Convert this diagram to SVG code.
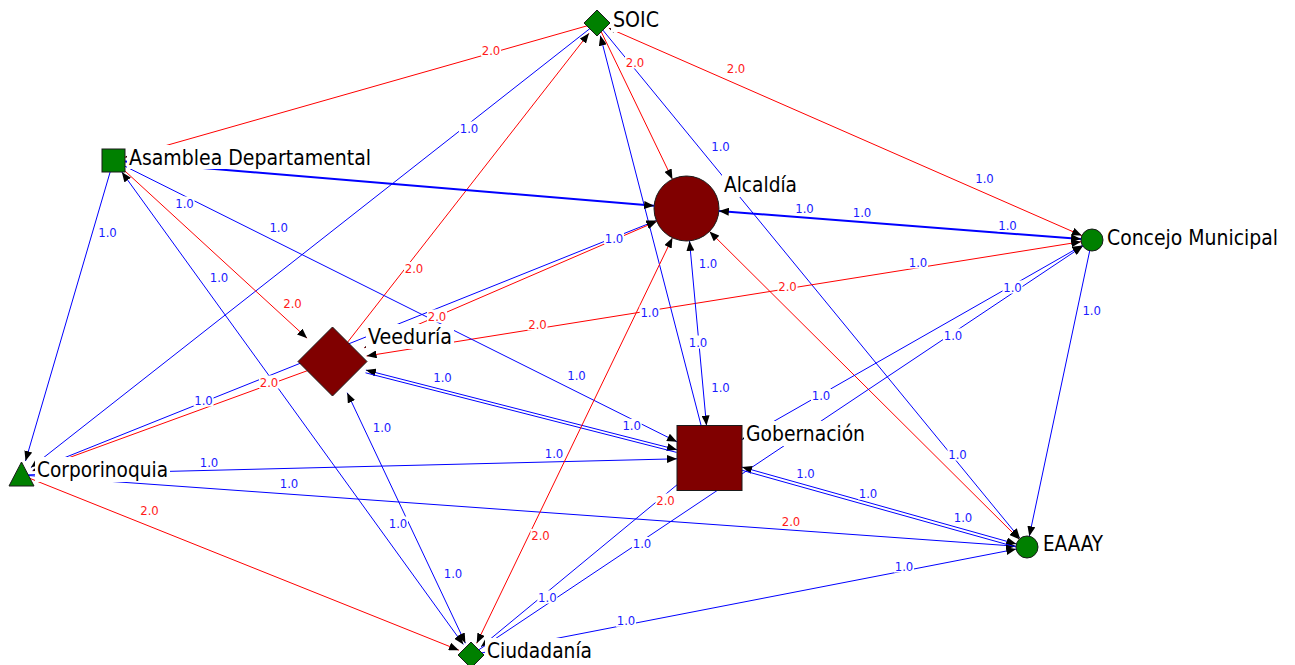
<svg xmlns="http://www.w3.org/2000/svg" width="1295" height="665" viewBox="0 0 1295 665">
<style>
.b{stroke:#0000ff;stroke-width:1;fill:none}
.r{stroke:#ff0000;stroke-width:1;fill:none}
.w2{stroke-width:2}
.ea{marker-end:url(#arr)}
.sa{marker-start:url(#arr)}
.ss{marker-start:url(#arrs)}
.lab rect,.nb{fill:#ffffff}
.lab text{font-family:"DejaVu Sans Condensed","DejaVu Sans",sans-serif;font-size:13px;text-anchor:middle}
.lb text{fill:#1a1aff}
.lr text{fill:#ff1a1a}
.nt{font-family:"DejaVu Sans Condensed","DejaVu Sans",sans-serif;font-size:21px;fill:#000000}
.gr{fill:#008000;stroke:#1a1a1a;stroke-width:1}
.dr{fill:#800000;stroke:#1a1a1a;stroke-width:1}
</style>
<defs>
<marker id="arr" viewBox="0 0 10 8" refX="10" refY="4" markerWidth="10" markerHeight="8" markerUnits="userSpaceOnUse" orient="auto-start-reverse"><path d="M0,0 L10,4 L0,8 z" fill="#000000"/></marker>
<marker id="arrs" viewBox="0 0 10 8" refX="10" refY="4" markerWidth="6" markerHeight="5" markerUnits="userSpaceOnUse" orient="auto-start-reverse"><path d="M0,0 L10,4 L0,8 z" fill="#000000"/></marker>
</defs>
<rect width="1295" height="665" fill="#ffffff"/>
<g id="connectors">
<line class="r ea" x1="597" y1="23" x2="125" y2="157.2"/>
<line class="b ea" x1="597" y1="23" x2="30.9" y2="467.6"/>
<line class="r ea" x1="332.5" y1="361.5" x2="589" y2="33.2"/>
<line class="r ea" x1="597" y1="23" x2="672.4" y2="179.2"/>
<line class="b ea" x1="709.5" y1="458" x2="600.3" y2="35.6"/>
<line class="b ea" x1="597" y1="23" x2="1020" y2="538.5"/>
<line class="r ss ea" x1="608.9" y1="28.2" x2="1081.9" y2="235.6"/>
<line class="b w2 ea" x1="113.5" y1="160.5" x2="654.1" y2="205.8"/>
<line class="b w2 sa ea" x1="718.9" y1="211" x2="1081" y2="239.1"/>
<line class="r sa ea" x1="366.6" y1="356" x2="1081.1" y2="241.7"/>
<line class="b sa ea" x1="32.6" y1="470.5" x2="656.3" y2="220.6"/>
<line class="r ea" x1="332.5" y1="361.5" x2="32.8" y2="470.9"/>
<line class="r sa ea" x1="364.2" y1="347.8" x2="656.7" y2="221.4"/>
<line class="r ea" x1="113.5" y1="160.5" x2="307.1" y2="338.2"/>
<line class="b sa ea" x1="121.8" y1="172" x2="463.4" y2="644.5"/>
<line class="b sa ea" x1="347.2" y1="392.7" x2="465.4" y2="643.2"/>
<line class="b ea" x1="113.5" y1="160.5" x2="677" y2="441.8"/>
<line class="b sa ea" x1="365.9" y1="370.1" x2="677" y2="449.7"/>
<line class="b" x1="365.5" y1="372.8" x2="676.6" y2="452.4"/>
<line class="b ea" x1="21.5" y1="475" x2="677" y2="458.8"/>
<line class="b ea" x1="21.5" y1="475" x2="1016" y2="546.2"/>
<line class="r ea" x1="21.5" y1="475" x2="458.9" y2="650.2"/>
<line class="b ea" x1="113.5" y1="160.5" x2="25.5" y2="461"/>
<line class="r sa ea" x1="476.7" y1="643.3" x2="672.4" y2="237.8"/>
<line class="r sa ea" x1="709.5" y1="231.4" x2="1019.2" y2="539.2"/>
<line class="b ea" x1="1092" y1="240" x2="1029.3" y2="536.2"/>
<line class="b sa ea" x1="742" y1="439.5" x2="1082.4" y2="245.4"/>
<line class="b ea" x1="471" y1="655" x2="1082.9" y2="246.1"/>
<line class="b ea" x1="709.5" y1="458" x2="481" y2="646.7"/>
<line class="b ea" x1="471" y1="655" x2="1016.2" y2="549.1"/>
<line class="b sa ea" x1="742" y1="467.1" x2="1016.4" y2="544"/>
<line class="b" x1="741.2" y1="470" x2="1015.6" y2="546.9"/>
<line class="b sa ea" x1="689.5" y1="240.9" x2="706.5" y2="425.5"/>
</g>
<g id="connector-labels">
<g class="lab lr" transform="translate(491,50)"><rect x="-10" y="-6.5" width="20" height="13"/><text y="4.7">2.0</text></g>
<g class="lab lr" transform="translate(635,62)"><rect x="-10" y="-6.5" width="20" height="13"/><text y="4.7">2.0</text></g>
<g class="lab lr" transform="translate(736,68.5)"><rect x="-10" y="-6.5" width="20" height="13"/><text y="4.7">2.0</text></g>
<g class="lab lb" transform="translate(469,128)"><rect x="-10" y="-6.5" width="20" height="13"/><text y="4.7">1.0</text></g>
<g class="lab lb" transform="translate(720.5,146.7)"><rect x="-10" y="-6.5" width="20" height="13"/><text y="4.7">1.0</text></g>
<g class="lab lb" transform="translate(984.5,178)"><rect x="-10" y="-6.5" width="20" height="13"/><text y="4.7">1.0</text></g>
<g class="lab lb" transform="translate(184.5,203)"><rect x="-10" y="-6.5" width="20" height="13"/><text y="4.7">1.0</text></g>
<g class="lab lb" transform="translate(278.7,227)"><rect x="-10" y="-6.5" width="20" height="13"/><text y="4.7">1.0</text></g>
<g class="lab lb" transform="translate(107.5,232)"><rect x="-10" y="-6.5" width="20" height="13"/><text y="4.7">1.0</text></g>
<g class="lab lb" transform="translate(804.5,208)"><rect x="-10" y="-6.5" width="20" height="13"/><text y="4.7">1.0</text></g>
<g class="lab lb" transform="translate(862,212)"><rect x="-10" y="-6.5" width="20" height="13"/><text y="4.7">1.0</text></g>
<g class="lab lb" transform="translate(1007.5,225)"><rect x="-10" y="-6.5" width="20" height="13"/><text y="4.7">1.0</text></g>
<g class="lab lb" transform="translate(614,238)"><rect x="-10" y="-6.5" width="20" height="13"/><text y="4.7">1.0</text></g>
<g class="lab lb" transform="translate(708,263)"><rect x="-10" y="-6.5" width="20" height="13"/><text y="4.7">1.0</text></g>
<g class="lab lb" transform="translate(918,262)"><rect x="-10" y="-6.5" width="20" height="13"/><text y="4.7">1.0</text></g>
<g class="lab lb" transform="translate(219,277)"><rect x="-10" y="-6.5" width="20" height="13"/><text y="4.7">1.0</text></g>
<g class="lab lr" transform="translate(787.5,286)"><rect x="-10" y="-6.5" width="20" height="13"/><text y="4.7">2.0</text></g>
<g class="lab lb" transform="translate(1012.5,287)"><rect x="-10" y="-6.5" width="20" height="13"/><text y="4.7">1.0</text></g>
<g class="lab lr" transform="translate(414,268.5)"><rect x="-10" y="-6.5" width="20" height="13"/><text y="4.7">2.0</text></g>
<g class="lab lr" transform="translate(292.5,303)"><rect x="-10" y="-6.5" width="20" height="13"/><text y="4.7">2.0</text></g>
<g class="lab lr" transform="translate(437,316)"><rect x="-10" y="-6.5" width="20" height="13"/><text y="4.7">2.0</text></g>
<g class="lab lb" transform="translate(649.7,312)"><rect x="-10" y="-6.5" width="20" height="13"/><text y="4.7">1.0</text></g>
<g class="lab lb" transform="translate(1091.7,310)"><rect x="-10" y="-6.5" width="20" height="13"/><text y="4.7">1.0</text></g>
<g class="lab lr" transform="translate(537.5,324)"><rect x="-10" y="-6.5" width="20" height="13"/><text y="4.7">2.0</text></g>
<g class="lab lb" transform="translate(953,335)"><rect x="-10" y="-6.5" width="20" height="13"/><text y="4.7">1.0</text></g>
<g class="lab lb" transform="translate(698,342)"><rect x="-10" y="-6.5" width="20" height="13"/><text y="4.7">1.0</text></g>
<g class="lab lb" transform="translate(442.5,377)"><rect x="-10" y="-6.5" width="20" height="13"/><text y="4.7">1.0</text></g>
<g class="lab lb" transform="translate(576.5,375.7)"><rect x="-10" y="-6.5" width="20" height="13"/><text y="4.7">1.0</text></g>
<g class="lab lr" transform="translate(269,382)"><rect x="-10" y="-6.5" width="20" height="13"/><text y="4.7">2.0</text></g>
<g class="lab lb" transform="translate(203.5,400)"><rect x="-10" y="-6.5" width="20" height="13"/><text y="4.7">1.0</text></g>
<g class="lab lb" transform="translate(720.5,387.7)"><rect x="-10" y="-6.5" width="20" height="13"/><text y="4.7">1.0</text></g>
<g class="lab lb" transform="translate(821,395)"><rect x="-10" y="-6.5" width="20" height="13"/><text y="4.7">1.0</text></g>
<g class="lab lb" transform="translate(382,427)"><rect x="-10" y="-6.5" width="20" height="13"/><text y="4.7">1.0</text></g>
<g class="lab lb" transform="translate(631.7,425.3)"><rect x="-10" y="-6.5" width="20" height="13"/><text y="4.7">1.0</text></g>
<g class="lab lb" transform="translate(957.5,454)"><rect x="-10" y="-6.5" width="20" height="13"/><text y="4.7">1.0</text></g>
<g class="lab lb" transform="translate(209,462)"><rect x="-10" y="-6.5" width="20" height="13"/><text y="4.7">1.0</text></g>
<g class="lab lb" transform="translate(554,453.5)"><rect x="-10" y="-6.5" width="20" height="13"/><text y="4.7">1.0</text></g>
<g class="lab lb" transform="translate(805.5,473)"><rect x="-10" y="-6.5" width="20" height="13"/><text y="4.7">1.0</text></g>
<g class="lab lb" transform="translate(289,483.5)"><rect x="-10" y="-6.5" width="20" height="13"/><text y="4.7">1.0</text></g>
<g class="lab lb" transform="translate(868,493)"><rect x="-10" y="-6.5" width="20" height="13"/><text y="4.7">1.0</text></g>
<g class="lab lr" transform="translate(665.5,500)"><rect x="-10" y="-6.5" width="20" height="13"/><text y="4.7">2.0</text></g>
<g class="lab lb" transform="translate(963,517)"><rect x="-10" y="-6.5" width="20" height="13"/><text y="4.7">1.0</text></g>
<g class="lab lr" transform="translate(149.5,510.5)"><rect x="-10" y="-6.5" width="20" height="13"/><text y="4.7">2.0</text></g>
<g class="lab lr" transform="translate(791,521.5)"><rect x="-10" y="-6.5" width="20" height="13"/><text y="4.7">2.0</text></g>
<g class="lab lb" transform="translate(398,523)"><rect x="-10" y="-6.5" width="20" height="13"/><text y="4.7">1.0</text></g>
<g class="lab lr" transform="translate(540.5,535.5)"><rect x="-10" y="-6.5" width="20" height="13"/><text y="4.7">2.0</text></g>
<g class="lab lb" transform="translate(642,543.5)"><rect x="-10" y="-6.5" width="20" height="13"/><text y="4.7">1.0</text></g>
<g class="lab lb" transform="translate(453,573.5)"><rect x="-10" y="-6.5" width="20" height="13"/><text y="4.7">1.0</text></g>
<g class="lab lb" transform="translate(904,566)"><rect x="-10" y="-6.5" width="20" height="13"/><text y="4.7">1.0</text></g>
<g class="lab lb" transform="translate(547.3,597)"><rect x="-10" y="-6.5" width="20" height="13"/><text y="4.7">1.0</text></g>
<g class="lab lb" transform="translate(626,620.3)"><rect x="-10" y="-6.5" width="20" height="13"/><text y="4.7">1.0</text></g>
</g>
<g id="node-soic">
<polygon class="gr" points="597,10 610,23 597,36 584,23"/>
<rect class="nb" x="611" y="7" width="50" height="25"/>
<text class="nt" x="613" y="27" textLength="46" lengthAdjust="spacingAndGlyphs">SOIC</text>
</g>
<g id="node-asamblea">
<rect class="gr" x="102" y="149" width="23" height="23"/>
<rect class="nb" x="127" y="145" width="246" height="24"/>
<text class="nt" x="129" y="165" textLength="242" lengthAdjust="spacingAndGlyphs">Asamblea Departamental</text>
</g>
<g id="node-alcaldia">
<circle class="dr" cx="686.5" cy="208.5" r="32.5"/>
<rect class="nb" x="722" y="172" width="77" height="25"/>
<text class="nt" x="724" y="192" textLength="73" lengthAdjust="spacingAndGlyphs">Alcaldía</text>
</g>
<g id="node-concejo">
<circle class="gr" cx="1092" cy="240" r="11"/>
<rect class="nb" x="1105" y="225" width="175" height="25"/>
<text class="nt" x="1107" y="245" textLength="171" lengthAdjust="spacingAndGlyphs">Concejo Municipal</text>
</g>
<g id="node-veeduria">
<polygon class="dr" points="332.5,327 367,361.5 332.5,396 298,361.5"/>
<rect class="nb" x="366" y="324" width="88" height="25"/>
<text class="nt" x="368" y="344" textLength="84" lengthAdjust="spacingAndGlyphs">Veeduría</text>
</g>
<g id="node-gobernacion">
<rect class="dr" x="677" y="425.5" width="65" height="65"/>
<rect class="nb" x="744" y="421" width="123" height="25"/>
<text class="nt" x="746" y="441" textLength="119" lengthAdjust="spacingAndGlyphs">Gobernación</text>
</g>
<g id="node-corporinoquia">
<polygon class="gr" points="21.5,462 34,486 9,486"/>
<rect class="nb" x="35" y="457" width="135" height="25"/>
<text class="nt" x="37" y="477" textLength="131" lengthAdjust="spacingAndGlyphs">Corporinoquia</text>
</g>
<g id="node-eaaay">
<circle class="gr" cx="1027" cy="547" r="11"/>
<rect class="nb" x="1041" y="531" width="64" height="25"/>
<text class="nt" x="1043" y="551" textLength="60" lengthAdjust="spacingAndGlyphs">EAAAY</text>
</g>
<g id="node-ciudadania">
<polygon class="gr" points="471,642 484,655 471,668 458,655"/>
<rect class="nb" x="485" y="638" width="109" height="25"/>
<text class="nt" x="487" y="658" textLength="105" lengthAdjust="spacingAndGlyphs">Ciudadanía</text>
</g>
</svg>
